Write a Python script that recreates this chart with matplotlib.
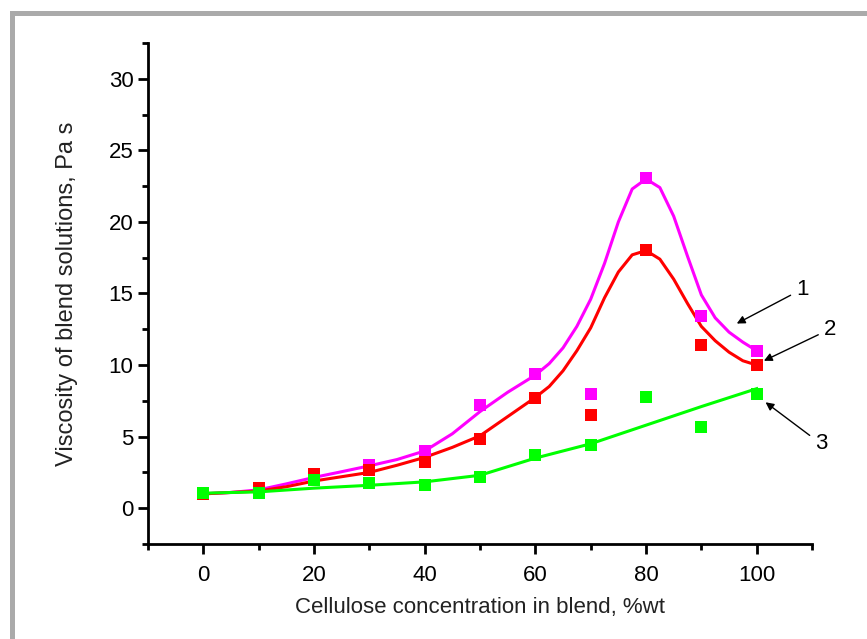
import matplotlib.pyplot as plt
from matplotlib.ticker import MultipleLocator
from matplotlib.patches import Rectangle

plt.rcParams['font.family'] = ['Liberation Sans', 'DejaVu Sans']

# measured points
conc = [0, 10, 20, 30, 40, 50, 60, 70, 80, 90, 100]
visc1 = [1.0, 1.2, 2.4, 3.0, 4.0, 7.2, 9.35, 7.95, 23.05, 13.4, 10.95]
visc2 = [1.0, 1.4, 2.4, 2.7, 3.2, 4.8, 7.7, 6.5, 18.05, 11.4, 10.0]
visc3 = [1.05, 1.05, 2.0, 1.75, 1.6, 2.2, 3.7, 4.45, 7.75, 5.7, 7.95]

# fitted curves
fit_x = [0, 5, 10, 15, 20, 25, 30, 35, 40, 45, 50, 55, 60, 62.5, 65, 67.5, 70,
         72.5, 75, 77.5, 80, 82.5, 85, 87.5, 90, 92.5, 95, 97.5, 100]
fit1 = [1.0, 1.1, 1.28, 1.7, 2.15, 2.55, 2.96, 3.4, 4.0, 5.2, 6.75, 8.1, 9.3,
        10.1, 11.2, 12.7, 14.6, 17.1, 20.0, 22.3, 23.0, 22.4, 20.4, 17.6, 14.9,
        13.3, 12.3, 11.6, 11.0]
fit2 = [1.0, 1.1, 1.2, 1.5, 1.9, 2.2, 2.5, 3.0, 3.55, 4.25, 5.06, 6.4, 7.74,
        8.5, 9.6, 11.0, 12.6, 14.7, 16.5, 17.7, 18.0, 17.4, 16.0, 14.3, 12.7,
        11.7, 10.9, 10.3, 10.0]
fit3_x = [0, 10, 20, 30, 40, 50, 60, 70, 80, 90, 100]
fit3 = [1.05, 1.14, 1.4, 1.6, 1.84, 2.3, 3.5, 4.5, 5.8, 7.1, 8.35]

fig = plt.figure(figsize=(8.67, 6.39), dpi=100)
ax = fig.add_axes([0.1707, 0.1487, 0.7659, 0.784])

fig.patches.append(Rectangle((0.0144, -0.2), 1.3, 1.179, transform=fig.transFigure,
                             fill=False, edgecolor='#aaaaaa', lw=3.6))

ax.plot(fit_x, fit1, color='#ff00ff', lw=2.2)
ax.plot(fit_x, fit2, color='#ff0000', lw=2.2)
ax.plot(fit3_x, fit3, color='#00ff00', lw=2.2)
ax.plot(conc, visc1, 's', color='#ff00ff', ms=9, mew=0)
ax.plot(conc, visc2, 's', color='#ff0000', ms=9, mew=0)
ax.plot(conc, visc3, 's', color='#00ff00', ms=9, mew=0)

ax.set_xlim(-10, 110)
ax.set_ylim(-2.5, 32.5)
ax.xaxis.set_major_locator(MultipleLocator(20))
ax.xaxis.set_minor_locator(MultipleLocator(10))
ax.yaxis.set_major_locator(MultipleLocator(5))
ax.yaxis.set_minor_locator(MultipleLocator(2.5))
ax.spines['top'].set_visible(False)
ax.spines['right'].set_visible(False)
ax.spines['left'].set_linewidth(2)
ax.spines['bottom'].set_linewidth(2)
ax.tick_params(which='major', direction='out', length=7, width=2, labelsize=16)
ax.tick_params(axis='x', which='major', pad=8)
ax.tick_params(which='minor', direction='out', length=4, width=2)

ax.set_xlabel('Cellulose concentration in blend, %wt', fontsize=16, labelpad=8,
              color='#222222')
ax.set_ylabel('Viscosity of blend solutions, Pa s', fontsize=17, labelpad=22,
              color='#222222')

arrow = dict(arrowstyle='-|>', color='black', lw=1, mutation_scale=12,
             shrinkA=2, shrinkB=0)
ax.annotate('1', xy=(96.4, 12.9), xytext=(108.2, 15.3), fontsize=16,
            ha='center', va='center', arrowprops=arrow, annotation_clip=False)
ax.annotate('2', xy=(101.3, 10.3), xytext=(113.2, 12.5), fontsize=16,
            ha='center', va='center', arrowprops=arrow, annotation_clip=False)
ax.annotate('3', xy=(101.6, 7.4), xytext=(111.6, 4.5), fontsize=16,
            ha='center', va='center', arrowprops=arrow, annotation_clip=False)

fig.savefig('out.png', dpi=100)
